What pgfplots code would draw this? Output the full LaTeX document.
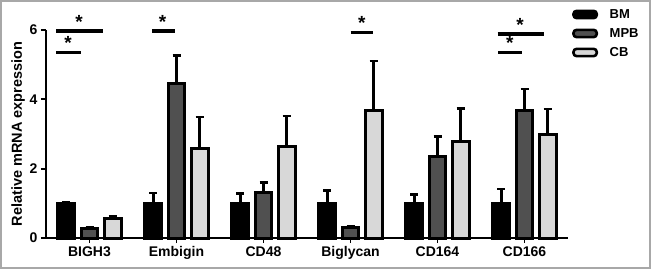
\documentclass[border=0pt]{standalone}
\usepackage{pgfplots}
\pgfplotsset{compat=1.18}
\usepackage{fontspec}
\setmainfont{Liberation Sans}
\definecolor{mpb}{HTML}{505050}
\definecolor{cbc}{HTML}{D8D8D8}
\definecolor{frame}{HTML}{A8A8A8}
\pgfplotsset{
  errs/.style={draw=none, no markers, forget plot,
    error bars/.cd, y dir=plus, y explicit, error mark=-,
    error bar style={draw=black, line width=2.6pt},
    error mark options={draw=black, line width=2.6pt, mark size=4pt, rotate=90}},
  sig/.style={sharp plot, no markers, black, line width=3.8pt, forget plot},
}
\tikzset{sigstar/.style={font=\bfseries\fontsize{19}{19}\selectfont, anchor=base, inner sep=0pt}}
\begin{document}
\begin{tikzpicture}[x=1pt,y=1pt]
\useasboundingbox (0,0) rectangle (651,269);
\draw[frame, line width=2pt] (1,1) rectangle (650,268);
\begin{axis}[
  at={(46pt,31pt)}, anchor=south west,
  scale only axis, width=522pt, height=208pt,
  xmin=-0.5, xmax=5.5, ymin=0, ymax=6,
  axis lines*=left,
  axis line style={line width=2pt, black},
  xtick={0,1,2,3,4,5},
  xticklabels={BIGH3,Embigin,CD48,Biglycan,CD164,CD166},
  ytick={0,2,4,6},
  tick align=outside, major tick length=5pt,
  tick style={line width=1.8pt, black},
  ticklabel style={font=\bfseries\fontsize{14}{16}\selectfont},
  /pgf/number format/assume math mode=true,
  ylabel={\bfseries Relative mRNA expression},
  every axis y label/.style={at={(axis description cs:-0.0536,0.5)}, rotate=90, anchor=center,
    font=\fontsize{14.5}{16}\selectfont},
  bar width=0.195,
  clip=false,
  legend style={draw=none, fill=none, inner sep=0pt, at={(1.0077,1.108)}, anchor=north west,
    font=\bfseries\fontsize{13}{15}\selectfont, row sep=5.5pt,
    nodes={inner sep=1pt, text height=9.5pt, text depth=2pt},
    legend cell align=left},
  legend image code/.code={\draw[#1, line width=2.6pt, rounded corners=3pt] (1.3pt,-3.6pt) rectangle (24.5pt,3.6pt); \path (35pt,0pt);},
]
\addplot[ybar, draw=black, fill=black, line width=3pt, bar shift=-0.265] coordinates {
  (0,1.0) (1,1.0) (2,1.0) (3,1.0) (4,1.0) (5,1.0)
};
\addlegendentry{BM}
\addplot[ybar, draw=black, fill=mpb, line width=3pt, bar shift=0] coordinates {
  (0,0.27) (1,4.47) (2,1.32) (3,0.30) (4,2.34) (5,3.67)
};
\addlegendentry{MPB}
\addplot[ybar, draw=black, fill=cbc, line width=3pt, bar shift=0.265] coordinates {
  (0,0.55) (1,2.58) (2,2.64) (3,3.69) (4,2.77) (5,3.00)
};
\addlegendentry{CB}
% error bars (upper only)
\addplot[errs] coordinates {
  (-0.265,1.0) +- (0,0.03)
  (0.735,1.0) +- (0,0.30)
  (1.735,1.0) +- (0,0.28)
  (2.735,1.0) +- (0,0.37)
  (3.735,1.0) +- (0,0.26)
  (4.735,1.0) +- (0,0.41)
};
\addplot[errs] coordinates {
  (0,0.27) +- (0,0.03)
  (1,4.47) +- (0,0.79)
  (2,1.32) +- (0,0.28)
  (3,0.30) +- (0,0.05)
  (4,2.34) +- (0,0.59)
  (5,3.67) +- (0,0.63)
};
\addplot[errs] coordinates {
  (0.265,0.55) +- (0,0.08)
  (1.265,2.58) +- (0,0.91)
  (2.265,2.64) +- (0,0.88)
  (3.265,3.69) +- (0,1.42)
  (4.265,2.77) +- (0,0.97)
  (5.265,3.00) +- (0,0.72)
};
% significance lines
\addplot[sig] coordinates {(-0.38,5.96) (0.15,5.96)};
\addplot[sig] coordinates {(-0.38,5.35) (-0.10,5.35)};
\addplot[sig] coordinates {(0.72,5.96) (0.98,5.96)};
\addplot[sig] coordinates {(3.0,5.93) (3.26,5.93)};
\addplot[sig] coordinates {(4.69,5.88) (5.22,5.88)};
\addplot[sig] coordinates {(4.70,5.35) (4.97,5.35)};
\node[sigstar] at (axis cs:-0.12,6.04) {*};
\node[sigstar] at (axis cs:-0.245,5.43) {*};
\node[sigstar] at (axis cs:0.84,6.04) {*};
\node[sigstar] at (axis cs:3.13,6.01) {*};
\node[sigstar] at (axis cs:4.95,5.96) {*};
\node[sigstar] at (axis cs:4.83,5.43) {*};
\end{axis}
\end{tikzpicture}
\end{document}
